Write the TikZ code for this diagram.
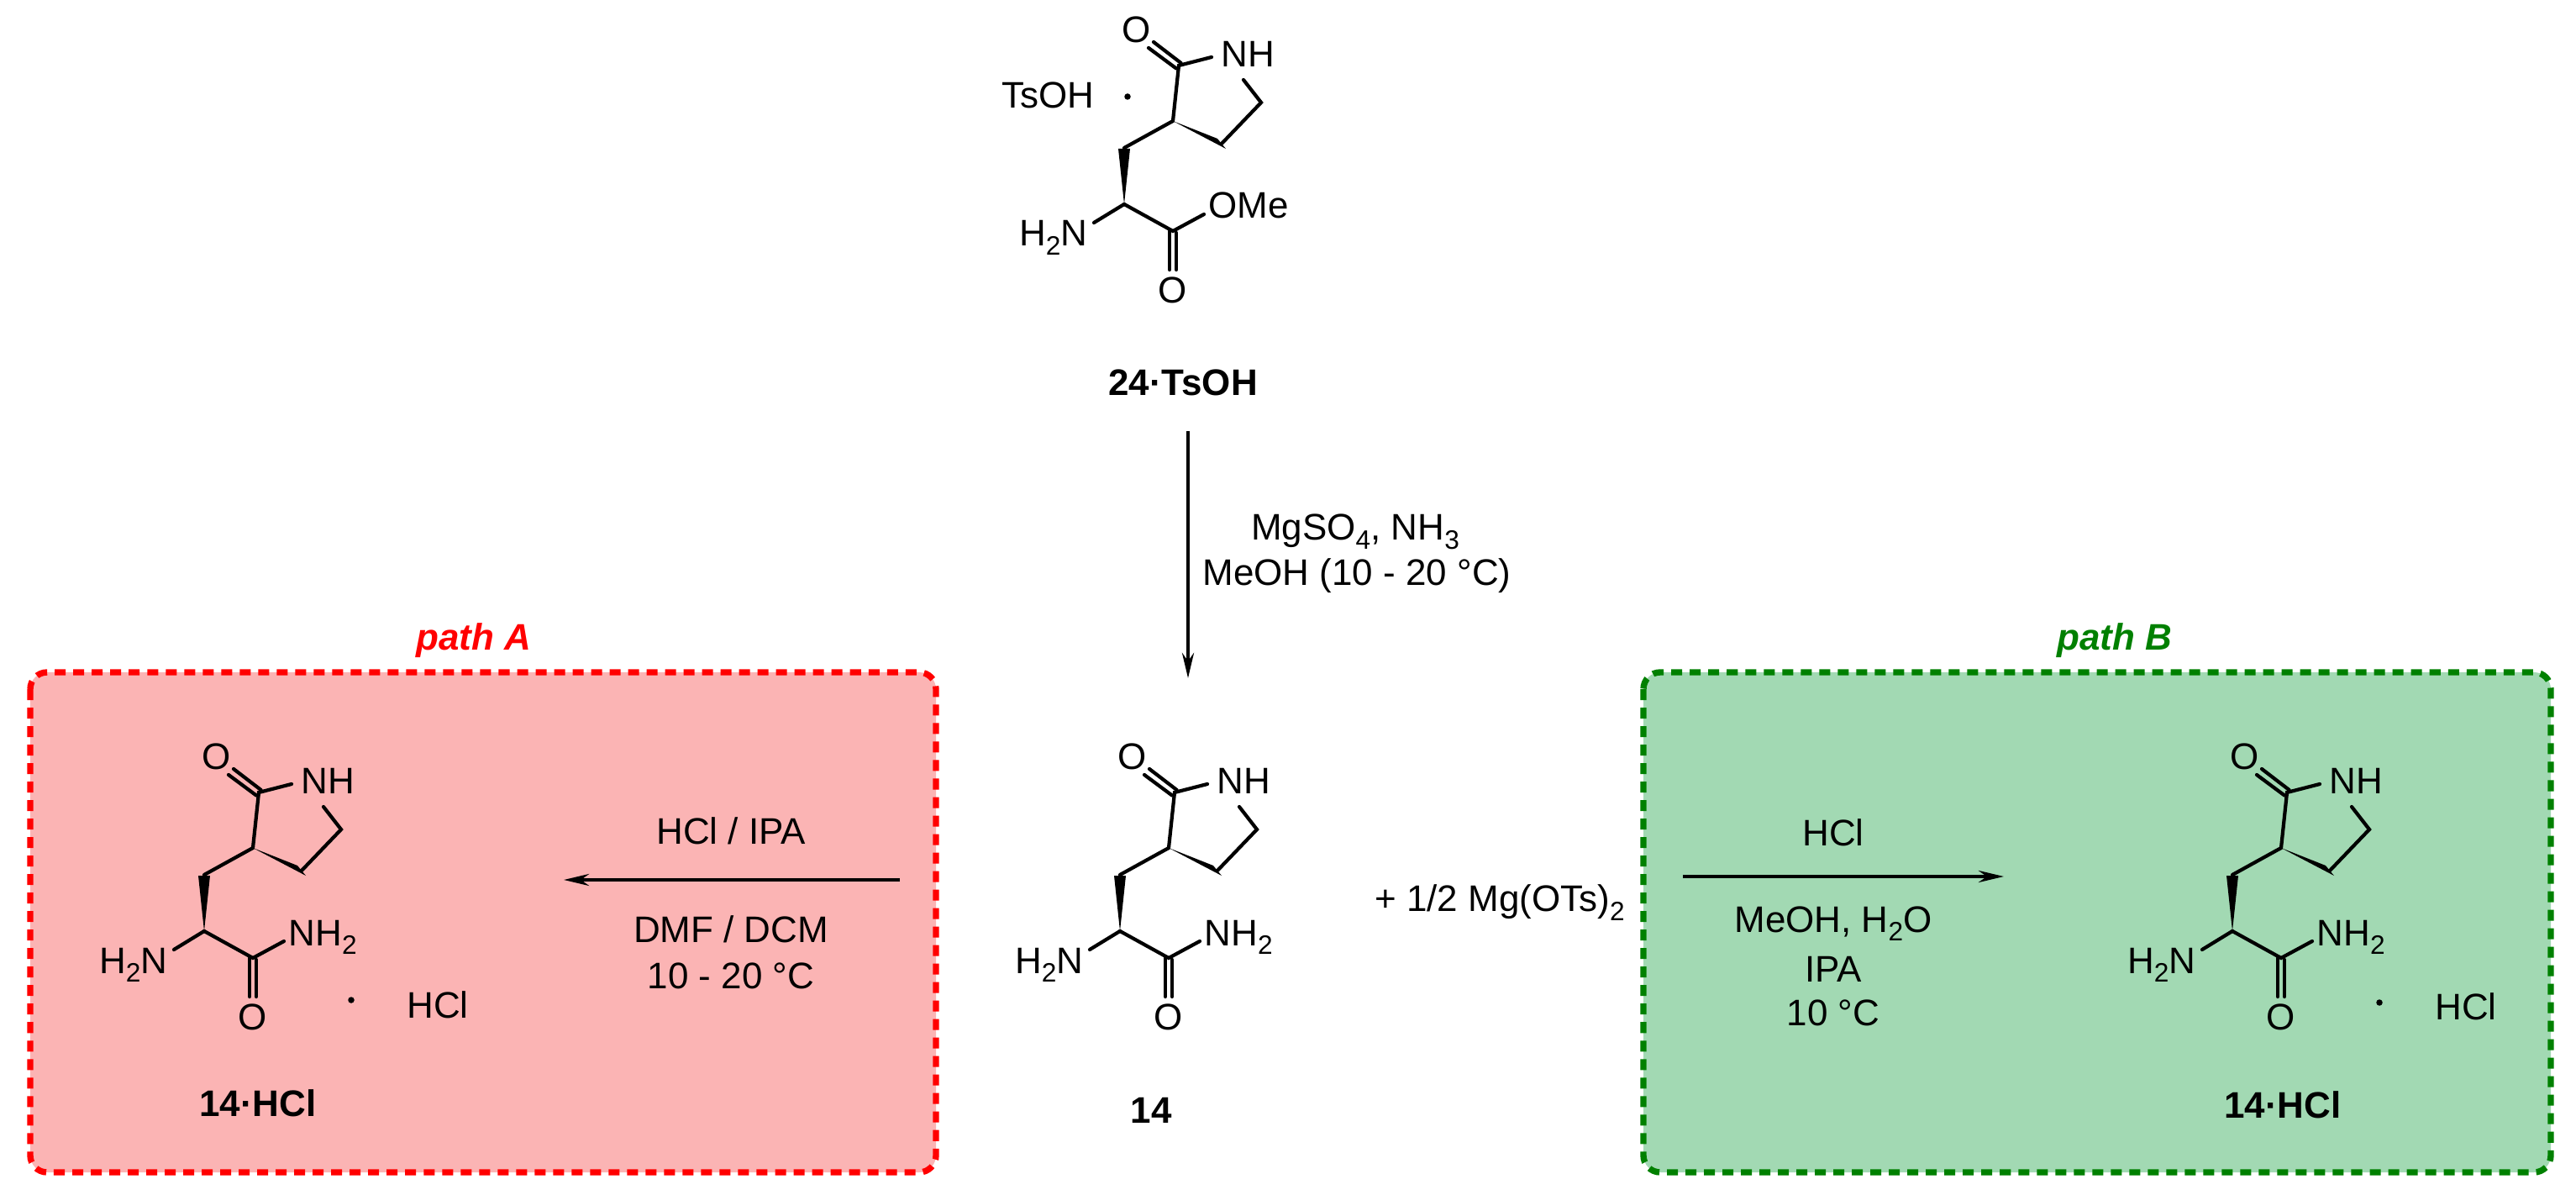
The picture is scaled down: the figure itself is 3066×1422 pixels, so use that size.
\documentclass[tikz,border=0pt]{standalone}
\usepackage{fontspec}
\setmainfont{Liberation Sans}
\usetikzlibrary{arrows.meta,calc}
\newcommand\chsub[1]{\raisebox{-0.45ex}{\fontsize{9}{10}\selectfont #1}}
\begin{document}
\begin{tikzpicture}[x=0.01cm,y=-0.01cm,
  every node/.style={font=\fontsize{12.5}{15}\selectfont,inner sep=0pt},
  bond/.style={line width=1.2pt,line cap=round},
  wedge/.style={fill=black},
  dotc/.style={circle,fill=black,minimum size=0.075cm},
  arr/.style={line width=1.2pt,-{Stealth[length=0.3cm,width=0.14cm]}},
  lab/.style={font=\fontsize{12.5}{15}\selectfont\bfseries},
  pathlab/.style={font=\fontsize{12.5}{15}\selectfont\bfseries\itshape},
  box/.style={line width=2.1pt,dash pattern=on 0.13cm off 0.09cm,rounded corners=0.2cm},
  mol/.pic={
    \coordinate (-Ca) at (0,0);
    \coordinate (-CH2) at (0,-67);
    \coordinate (-C3) at (58,-99);
    \coordinate (-C2) at (65,-165);
    \coordinate (-C5) at (163,-121);
    \coordinate (-C4) at (116,-72);
    \coordinate (-Cc) at (58,32);
    \node (-O1) at (15,-208) {O};
    \node (-O2) at (58,102) {O};
    \node[anchor=base west] (-N1) at (115,-163) {NH};
    \node[anchor=base east] (-N2) at (-43,50) {H\chsub{2}N};
    \node[anchor=base west] (-R) at (100,17) {#1};
    \draw[bond] (-C3) -- (-C2) -- (104,-175);
    \draw[bond] (142,-148) -- (-C5) -- (-C4);
    \draw[bond] ($(-C2)+(2.6,-3)$) -- (35,-193);
    \draw[bond] ($(-C2)+(-3,3.5)$) -- (29,-186);
    \draw[bond] (-C3) -- (-CH2);
    \draw[bond] (-Ca) -- (-36,22);
    \draw[bond] (-Ca) -- (-Cc) -- (95,12);
    \draw[bond] (54,32) -- (54,78);
    \draw[bond] (62,34) -- (62,78);
    \fill[wedge] (-C3) -- (111,-78) -- (121,-66) -- cycle;
    \fill[wedge] (-Ca) -- (-7,-66) -- (7,-66) -- cycle;
  }]
\useasboundingbox (0,0) rectangle (3066,1422);
% boxes
\draw[box,draw=red,fill={rgb,255:red,251;green,180;blue,180}] (36,800) rectangle (1114,1395);
\draw[box,draw={rgb,255:red,0;green,128;blue,0},fill={rgb,255:red,162;green,217;blue,179}] (1956,800) rectangle (3036,1395);
\node[pathlab,text=red] (pA) at (564,762) {path A};
\node[pathlab,text={rgb,255:red,0;green,128;blue,0}] (pB) at (2517,762) {path B};
% top molecule
\pic (m24) at (1338,243) {mol={OMe}};
\node (tsoh) at (1247,113) {TsOH};
\node[dotc] (dot1) at (1342,115) {};
\node[lab] (l24) at (1408,455) {24·TsOH};
% middle molecule
\pic (m14) at (1333,1108) {mol={NH\chsub{2}}};
\node[lab] (l14) at (1370,1321) {14};
\node (mg) at (1785,1074) {+ 1/2 Mg(OTs)\chsub{2}};
% vertical arrow
\coordinate (v1) at (1414,513);
\coordinate (v2) at (1414,807);
\draw[arr] (v1) -- (v2);
\node (c1) at (1613,633) {MgSO\chsub{4}, NH\chsub{3}};
\node (c2) at (1615,685) {MeOH (10 - 20 °C)};
% path A
\pic (mA) at (243,1108) {mol={NH\chsub{2}}};
\node[dotc] (dA) at (418,1190) {};
\node (hA) at (521,1196) {HCl};
\node[lab] (lA) at (307,1313) {14·HCl};
\coordinate (a1) at (1071,1047);
\coordinate (a2) at (671,1047);
\draw[arr] (a1) -- (a2);
\node (ca1) at (870,989) {HCl / IPA};
\node (ca2) at (870,1106) {DMF / DCM};
\node (ca3) at (870,1161) {10 - 20 °C};
% path B
\pic (mB) at (2657,1108) {mol={NH\chsub{2}}};
\node[dotc] (dB) at (2832,1193) {};
\node (hB) at (2935,1198) {HCl};
\node[lab] (lB) at (2717,1315) {14·HCl};
\coordinate (b1) at (2003,1043);
\coordinate (b2) at (2385,1043);
\draw[arr] (b1) -- (b2);
\node (cb1) at (2182,991) {HCl};
\node (cb2) at (2182,1099) {MeOH, H\chsub{2}O};
\node (cb3) at (2182,1153) {IPA};
\node (cb4) at (2182,1205) {10 °C};
\end{tikzpicture}
\end{document}
